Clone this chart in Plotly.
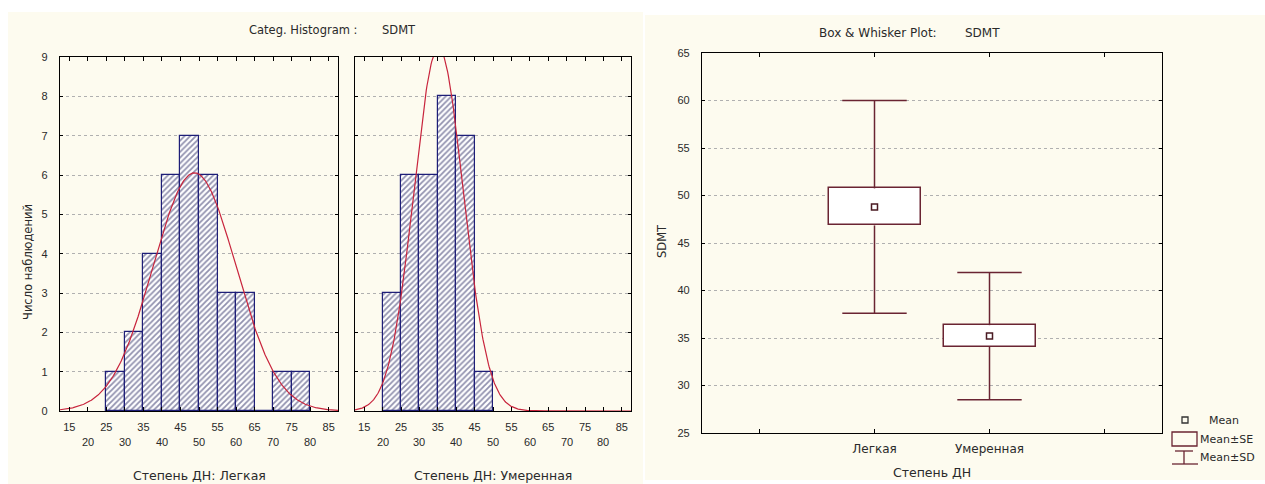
import numpy as np
import plotly.graph_objects as go

# ---------------- data ----------------
bin_width = 5
legk_bin_left = [25, 30, 35, 40, 45, 50, 55, 60, 65, 70, 75]
legk_counts = [1, 2, 4, 6, 7, 6, 3, 3, 0, 1, 1]
umer_bin_left = [20, 25, 30, 35, 40, 45]
umer_counts = [3, 6, 6, 8, 7, 1]

# fitted normal curve parameters (mean, SD)
legk_mean, legk_sd = 48.8, 11.2
umer_mean, umer_sd = 35.2, 6.7

hist_ticks_row1 = [15, 25, 35, 45, 55, 65, 75, 85]
hist_ticks_row2 = [20, 30, 40, 50, 60, 70, 80]
hist_yticks = list(range(0, 10))

# box & whisker (mean, mean±SE, mean±SD)
categories = ["Легкая", "Умеренная"]
means = [48.8, 35.2]
se_low = [46.85, 34.05]
se_high = [50.75, 36.35]
sd_low = [37.6, 28.5]
sd_high = [60.0, 41.9]
box_yticks = list(range(25, 70, 5))

W, H = 1265, 484
NUMF = "Liberation Sans, Arial, sans-serif"
TXTF = "DejaVu Sans, Verdana, sans-serif"
TXT = "#2a2a2a"
CREAM = "#fdfbef"
BAR_LINE = "#1e1e78"
HATCH = "#24245e"
CURVE = "#c8243c"
BOX = "#6a2432"


def px(x):
    return x / W


def py(y):
    return 1 - y / H


fig = go.Figure()

# ---------------- histograms ----------------
def add_hist(bin_left, counts, mu, sd, xa, ya):
    centers = [b + bin_width / 2 for b in bin_left]
    fig.add_trace(go.Bar(
        x=centers, y=counts, width=bin_width, xaxis=xa, yaxis=ya,
        marker=dict(color="white", line=dict(color=BAR_LINE, width=1.2),
                    pattern=dict(shape="/", fgcolor=HATCH, bgcolor="white",
                                 size=4, solidity=0.45)),
        showlegend=False, hoverinfo="skip"))
    n = sum(counts)
    xs = np.linspace(12.5, 87.5, 400)
    ys = n * bin_width / (sd * np.sqrt(2 * np.pi)) * np.exp(-0.5 * ((xs - mu) / sd) ** 2)
    fig.add_trace(go.Scatter(x=xs, y=ys, mode="lines", xaxis=xa, yaxis=ya,
                             line=dict(color=CURVE, width=1.2),
                             showlegend=False, hoverinfo="skip"))


add_hist(legk_bin_left, legk_counts, legk_mean, legk_sd, "x", "y")
add_hist(umer_bin_left, umer_counts, umer_mean, umer_sd, "x2", "y2")

# ---------------- box & whisker ----------------
box_x = [i + 2 for i in range(len(categories))]
box_w = 0.8
cap = 0.28
wx, wy = [], []
for xc, lo, hi, slo, shi in zip(box_x, se_low, se_high, sd_low, sd_high):
    wx += [xc, xc, None, xc, xc, None, xc - cap, xc + cap, None, xc - cap, xc + cap, None]
    wy += [shi, hi, None, lo, slo, None, shi, shi, None, slo, slo, None]
fig.add_trace(go.Scatter(x=wx, y=wy, mode="lines", xaxis="x3", yaxis="y3",
                         line=dict(color=BOX, width=1.5),
                         showlegend=False, hoverinfo="skip"))
fig.add_trace(go.Bar(
    x=box_x, y=[h - l for h, l in zip(se_high, se_low)], base=se_low, width=box_w,
    marker=dict(color="white", line=dict(color=BOX, width=1.5)),
    xaxis="x3", yaxis="y3", showlegend=False, hoverinfo="skip"))
fig.add_trace(go.Scatter(
    x=box_x, y=means, mode="markers", xaxis="x3", yaxis="y3",
    marker=dict(symbol="square-open", size=6, color="#4a1a22",
                line=dict(width=1.5, color="#4a1a22")),
    showlegend=False, hoverinfo="skip"))

numfont = dict(family=NUMF, size=11, color=TXT)

common_x = dict(showline=True, linecolor="black", linewidth=1.2, mirror="ticks",
                ticks="inside", ticklen=4, tickcolor="black", showgrid=False,
                zeroline=False, tickfont=numfont, ticklabelstandoff=6,
                automargin=False)
common_y = dict(showline=True, linecolor="black", linewidth=1.2, mirror="ticks",
                ticks="inside", ticklen=3, tickcolor="black", showgrid=True,
                gridcolor="#b0b0b0", griddash="dot", gridwidth=1,
                zeroline=False, tickfont=numfont, ticklabelstandoff=9,
                automargin=False)

hist_tickvals = hist_ticks_row1 + hist_ticks_row2
hist_ticktext = [str(t) for t in hist_ticks_row1] + [""] * len(hist_ticks_row2)

hy = [py(411), py(57)]
fig.update_layout(
    width=W, height=H, margin=dict(l=0, r=0, t=0, b=0, pad=0, autoexpand=False),
    paper_bgcolor="white", plot_bgcolor="white", bargap=0,
    font=dict(family=NUMF, size=11, color=TXT),
    xaxis=dict(domain=[px(60), px(338)], range=[12.5, 87.5], anchor="y",
               tickvals=hist_tickvals, ticktext=hist_ticktext, **common_x),
    yaxis=dict(domain=hy, range=[0, 9], anchor="x", tickvals=hist_yticks,
               **common_y),
    xaxis2=dict(domain=[px(355), px(631)], range=[12.5, 87.5], anchor="y2",
                tickvals=hist_tickvals, ticktext=hist_ticktext, **common_x),
    yaxis2=dict(domain=hy, range=[0, 9], anchor="x2", tickvals=hist_yticks,
                showticklabels=False, **common_y),
    xaxis3=dict(domain=[px(702), px(1162)], range=[0.5, 4.5], anchor="y3",
                tickvals=[1, 2, 3, 4], ticktext=[""] + categories + [""],
                **{**common_x, "tickfont": dict(family=TXTF, size=12, color=TXT),
                   "ticklabelstandoff": 4}),
    yaxis3=dict(domain=[py(433), py(53)], range=[25, 65], anchor="x3",
                tickvals=box_yticks, **common_y),
)

# second row of histogram tick labels (placed on the axes' own scale)
for xr in ("x", "x2"):
    for t in hist_ticks_row2:
        fig.add_annotation(text=str(t), x=t, xref=xr, y=py(442), yref="paper",
                           showarrow=False, xanchor="center", yanchor="middle",
                           font=numfont)

shapes = [
    dict(type="rect", xref="paper", yref="paper", x0=px(8), x1=px(643),
         y0=py(484), y1=py(12), fillcolor=CREAM, line=dict(width=0), layer="below"),
    dict(type="rect", xref="paper", yref="paper", x0=px(645), x1=px(1265),
         y0=py(480), y1=py(15), fillcolor=CREAM, line=dict(width=0), layer="below"),
]

lg = dict(color=BOX, width=1.3)
shapes += [
    dict(type="rect", xref="paper", yref="paper", x0=px(1182), x1=px(1188),
         y0=py(423), y1=py(417), line=dict(color="#333", width=1.3)),
    dict(type="rect", xref="paper", yref="paper", x0=px(1172), x1=px(1197),
         y0=py(446), y1=py(432), line=lg),
    dict(type="line", xref="paper", yref="paper", x0=px(1175), x1=px(1193),
         y0=py(451), y1=py(451), line=lg),
    dict(type="line", xref="paper", yref="paper", x0=px(1184), x1=px(1184),
         y0=py(451), y1=py(464), line=lg),
    dict(type="line", xref="paper", yref="paper", x0=px(1172), x1=px(1198),
         y0=py(464), y1=py(464), line=lg),
]
fig.update_layout(shapes=shapes)


def ann(text, x, y, size=11.5, angle=0, xanchor="center", family=TXTF):
    fig.add_annotation(text=text, x=px(x), y=py(y), xref="paper", yref="paper",
                       showarrow=False, textangle=angle, xanchor=xanchor,
                       yanchor="middle", font=dict(family=family, size=size, color=TXT))


ann("Categ. Histogram :", 303, 30)
ann("SDMT", 399, 30)
ann("Box & Whisker Plot:", 878, 33, size=12)
ann("SDMT", 982, 33, size=12)
ann("Число наблюдений", 28, 262, size=11.5, angle=-90)
ann("SDMT", 662, 241, size=11.5, angle=-90)
ann("Степень ДН: Легкая", 199, 475, size=12.5)
ann("Степень ДН: Умеренная", 493, 475, size=12.5)
ann("Степень ДН", 932, 472, size=12.5)
ann("Mean", 1207, 420, size=11, xanchor="left")
ann("Mean±SE", 1198, 439, size=11, xanchor="left")
ann("Mean±SD", 1198, 457, size=11, xanchor="left")

fig.write_html("out.html", config={"displayModeBar": False},
               post_script="document.body.style.margin='0px';")
